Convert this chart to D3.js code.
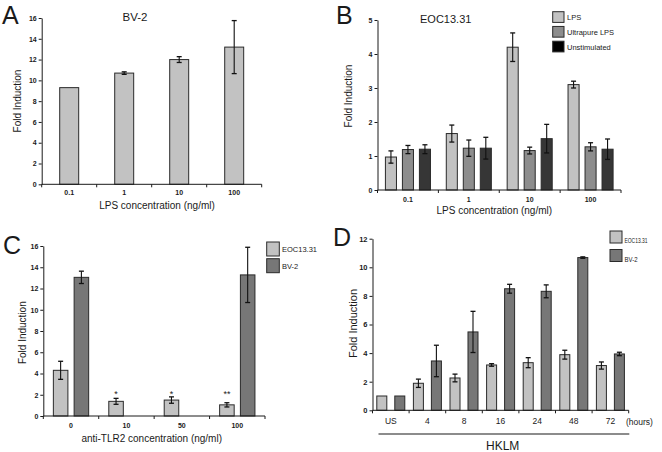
<!DOCTYPE html>
<html>
<head>
<meta charset="utf-8">
<script src="https://cdn.jsdelivr.net/npm/d3@7"></script>
<style>
  html, body { margin: 0; padding: 0; background: #fff; }
  svg { display: block; }
</style>
</head>
<body>
<svg id="chart" width="662" height="452"></svg>
<script>
// ---------------- DATA ----------------
// Panel A: BV-2, LPS concentration
const aCategories = ["0.1", "1", "10", "100"];
const aSeries = ["BV-2"];
const aValues = [9.3, 10.7, 12.0, 13.2];
const aErrors = [0, 0.12, 0.28, 2.55];
const aYTicks = [0, 2, 4, 6, 8, 10, 12, 14, 16];

// Panel B: EOC13.31, LPS concentration
const bCategories = ["0.1", "1", "10", "100"];
const bSeries = ["LPS", "Ultrapure LPS", "Unstimulated"];
const bLPS = [0.97, 1.66, 4.2, 3.1];
const bLPSErr = [0.18, 0.25, 0.42, 0.1];
const bUltrapure = [1.19, 1.23, 1.16, 1.27];
const bUltrapureErr = [0.12, 0.24, 0.1, 0.12];
const bUnstim = [1.2, 1.23, 1.51, 1.2];
const bUnstimErr = [0.13, 0.32, 0.42, 0.3];
const bYTicks = [0, 1, 2, 3, 4, 5];

// Panel C: anti-TLR2 concentration
const cCategories = ["0", "10", "50", "100"];
const cSeries = ["EOC13.31", "BV-2"];
const cEOC = [4.3, 1.38, 1.5, 1.05];
const cEOCErr = [0.85, 0.28, 0.3, 0.2];
const cBV2 = [13.05, null, null, 13.28];
const cBV2Err = [0.58, 0, 0, 2.6];
const cSignif = ["", "*", "*", "**"];
const cYTicks = [0, 2, 4, 6, 8, 10, 12, 14, 16];

// Panel D: HKLM time course
const dCategories = ["US", "4", "8", "16", "24", "48", "72"];
const dSeries = ["EOC13.31", "BV-2"];
const dEOC = [1.0, 1.89, 2.26, 3.17, 3.33, 3.89, 3.13];
const dEOCErr = [0, 0.29, 0.27, 0.09, 0.35, 0.31, 0.25];
const dBV2 = [1.0, 3.45, 5.48, 8.5, 8.32, 10.68, 3.94];
const dBV2Err = [0, 1.1, 1.44, 0.31, 0.45, 0.05, 0.12];
const dYTicks = [0, 2, 4, 6, 8, 10, 12];

// ---------------- DRAWING ----------------
const FONT = "'Liberation Sans', Arial, Helvetica, sans-serif";
const INK = "#1a1a1a";
const LIGHT = "#c2c2c2", MID = "#8d8d8d", DARK = "#363636", BVDARK = "#777777";
const svg = d3.select("#chart");

function txt(g, x, y, s, size, opts = {}) {
  const t = g.append("text")
    .attr("x", x).attr("y", y)
    .attr("font-family", FONT)
    .attr("font-size", size)
    .attr("fill", INK)
    .attr("text-anchor", opts.anchor || "start")
    .attr("font-weight", opts.weight || "normal")
    .text(s);
  if (opts.rotate) t.attr("transform", `rotate(-90,${x},${y})`);
  if (opts.textLength) t.attr("textLength", opts.textLength).attr("lengthAdjust", "spacingAndGlyphs");
  return t;
}

function panel(cfg) {
  const g = svg.append("g");
  const y = d3.scaleLinear().domain([0, cfg.ymax]).range([cfg.y0, cfg.y1]);
  const x0 = d3.scaleBand().domain(cfg.cats).range([cfg.xa, cfg.xb]);
  const bw = x0.bandwidth();
  const names = cfg.series.map(s => s.name);
  const x1 = d3.scaleBand().domain(names)
    .range([bw * (1 - cfg.groupFrac) / 2, bw * (1 + cfg.groupFrac) / 2])
    .paddingInner(cfg.innerPad);

  // bars
  cfg.series.forEach(s => {
    cfg.cats.forEach((c, i) => {
      const v = s.values[i];
      if (v == null) return;
      g.append("rect")
        .attr("x", x0(c) + x1(s.name))
        .attr("y", y(v))
        .attr("width", x1.bandwidth())
        .attr("height", y(0) - y(v))
        .attr("fill", s.color)
        .attr("stroke", "#2a2a2a")
        .attr("stroke-width", 1);
    });
  });
  // error bars
  cfg.series.forEach(s => {
    cfg.cats.forEach((c, i) => {
      const v = s.values[i], e = s.errors[i];
      if (v == null || !e) return;
      const cx = x0(c) + x1(s.name) + x1.bandwidth() / 2;
      const hi = y(v + e), lo = y(v - e);
      g.append("line").attr("x1", cx).attr("x2", cx).attr("y1", hi).attr("y2", lo)
        .attr("stroke", "#111").attr("stroke-width", 1.1);
      [hi, lo].forEach(yy => g.append("line")
        .attr("x1", cx - 2.5).attr("x2", cx + 2.5).attr("y1", yy).attr("y2", yy)
        .attr("stroke", "#111").attr("stroke-width", 1.3));
    });
  });

  // y axis
  const ya = g.append("g").attr("transform", `translate(${cfg.xa},0)`)
    .call(d3.axisLeft(y).tickValues(cfg.yticks).tickSize(3).tickSizeOuter(0).tickPadding(2)
      .tickFormat(d3.format("d")));
  ya.selectAll("path,line").attr("stroke", INK);
  ya.selectAll("text").attr("font-family", FONT).attr("font-size", cfg.ytickSize || 7)
    .attr("font-weight", "bold").attr("fill", INK);

  // x axis
  const xa = g.append("g").attr("transform", `translate(0,${cfg.y0})`)
    .call(d3.axisBottom(x0).tickSize(0).tickPadding(cfg.xtickPad));
  xa.select(".domain").attr("stroke", INK).attr("d", `M${cfg.xa},0H${cfg.xb}`);
  xa.selectAll("text").attr("font-family", FONT).attr("font-size", cfg.xtickSize || 7)
    .attr("font-weight", cfg.xtickWeight || "bold").attr("fill", INK);
  const bounds = cfg.cats.map(c => x0(c)).concat([cfg.xb]);
  bounds.forEach(bx => xa.append("line").attr("x1", bx).attr("x2", bx)
    .attr("y1", 0).attr("y2", 3).attr("stroke", INK));

  return { g, x0, x1, y };
}

// ---- Panel A ----
{
  panel({
    xa: 41.7, xb: 261.7, y0: 184.3, y1: 18, ymax: 16, yticks: aYTicks,
    cats: aCategories, groupFrac: 0.345, innerPad: 0, xtickPad: 6,
    series: [{ name: aSeries[0], values: aValues, errors: aErrors, color: LIGHT }]
  });
  txt(svg, 2, 24, "A", 25);
  txt(svg, 135, 20.5, "BV-2", 11.5, { anchor: "middle" });
  txt(svg, 20.5, 101, "Fold Induction", 10, { anchor: "middle", rotate: true });
  txt(svg, 157, 209, "LPS concentration (ng/ml)", 10, { anchor: "middle" });
}

// ---- Panel B ----
{
  const series = [
    { name: bSeries[0], values: bLPS, errors: bLPSErr, color: LIGHT },
    { name: bSeries[1], values: bUltrapure, errors: bUltrapureErr, color: MID },
    { name: bSeries[2], values: bUnstim, errors: bUnstimErr, color: DARK }
  ];
  panel({
    xa: 377.5, xb: 621, y0: 190, y1: 20, ymax: 5, yticks: bYTicks,
    cats: bCategories, groupFrac: 0.74, innerPad: 0.35, xtickPad: 7,
    series
  });
  txt(svg, 336, 24, "B", 25);
  txt(svg, 445.7, 23, "EOC13.31", 11, { anchor: "middle" });
  txt(svg, 351.5, 96, "Fold Induction", 10, { anchor: "middle", rotate: true });
  txt(svg, 494.3, 214, "LPS concentration (ng/ml)", 10, { anchor: "middle" });
  const lg = svg.append("g");
  const legendColors = [LIGHT, MID, "#000"];
  series.forEach((s, i) => {
    const ly = 11.7 + i * 14.75;
    lg.append("rect").attr("x", 552.7).attr("y", ly).attr("width", 11.3).attr("height", 10.7)
      .attr("fill", legendColors[i]).attr("stroke", "#2a2a2a");
    txt(lg, 567, ly + 8.6, s.name, 7.5);
  });
}

// ---- Panel C ----
{
  const series = [
    { name: cSeries[0], values: cEOC, errors: cEOCErr, color: LIGHT },
    { name: cSeries[1], values: cBV2, errors: cBV2Err, color: BVDARK }
  ];
  const p = panel({
    xa: 43.3, xb: 265, y0: 416, y1: 246, ymax: 16, yticks: cYTicks,
    cats: cCategories, groupFrac: 0.637, innerPad: 0.3, xtickPad: 7,
    series
  });
  cCategories.forEach((c, i) => {
    if (!cSignif[i]) return;
    const cx = p.x0(c) + p.x1(cSeries[0]) + p.x1.bandwidth() / 2;
    txt(p.g, cx, p.y(1.8), cSignif[i], 9, { anchor: "middle" });
  });
  txt(svg, 3, 254, "C", 25);
  txt(svg, 26, 332.7, "Fold Induction", 10, { anchor: "middle", rotate: true });
  txt(svg, 151.7, 441.5, "anti-TLR2 concentration (ng/ml)", 10, { anchor: "middle" });
  series.forEach((s, i) => {
    const ly = 242 + i * 16.7;
    svg.append("rect").attr("x", 266.7).attr("y", ly).attr("width", 12.6).attr("height", 14)
      .attr("fill", s.color).attr("stroke", "#2a2a2a");
    txt(svg, 282, ly + 10, s.name, 7.5);
  });
}

// ---- Panel D ----
{
  const series = [
    { name: dSeries[0], values: dEOC, errors: dEOCErr, color: LIGHT },
    { name: dSeries[1], values: dBV2, errors: dBV2Err, color: BVDARK }
  ];
  panel({
    xa: 372.5, xb: 628.7, y0: 410.3, y1: 238.7, ymax: 12, yticks: dYTicks,
    cats: dCategories, groupFrac: 0.765, innerPad: 0.444, xtickPad: 8,
    xtickSize: 8.5, xtickWeight: "normal", ytickSize: 7.5,
    series
  });
  txt(svg, 333, 246, "D", 25);
  txt(svg, 626, 424.5, "(hours)", 8.5);
  txt(svg, 357, 323.5, "Fold Induction", 11, { anchor: "middle", rotate: true });
  svg.append("line").attr("x1", 378.5).attr("x2", 629.3).attr("y1", 434).attr("y2", 434)
    .attr("stroke", INK).attr("stroke-width", 1.2);
  txt(svg, 502.7, 449.5, "HKLM", 12, { anchor: "middle" });
  const lens = [23, 13];
  series.forEach((s, i) => {
    const ly = 231 + i * 18.5;
    svg.append("rect").attr("x", 610).attr("y", ly).attr("width", 12).attr("height", 12)
      .attr("fill", s.color).attr("stroke", "#2a2a2a");
    txt(svg, 624.5, ly + 12.3, s.name, 8, { textLength: lens[i] });
  });
}
</script>
</body>
</html>
